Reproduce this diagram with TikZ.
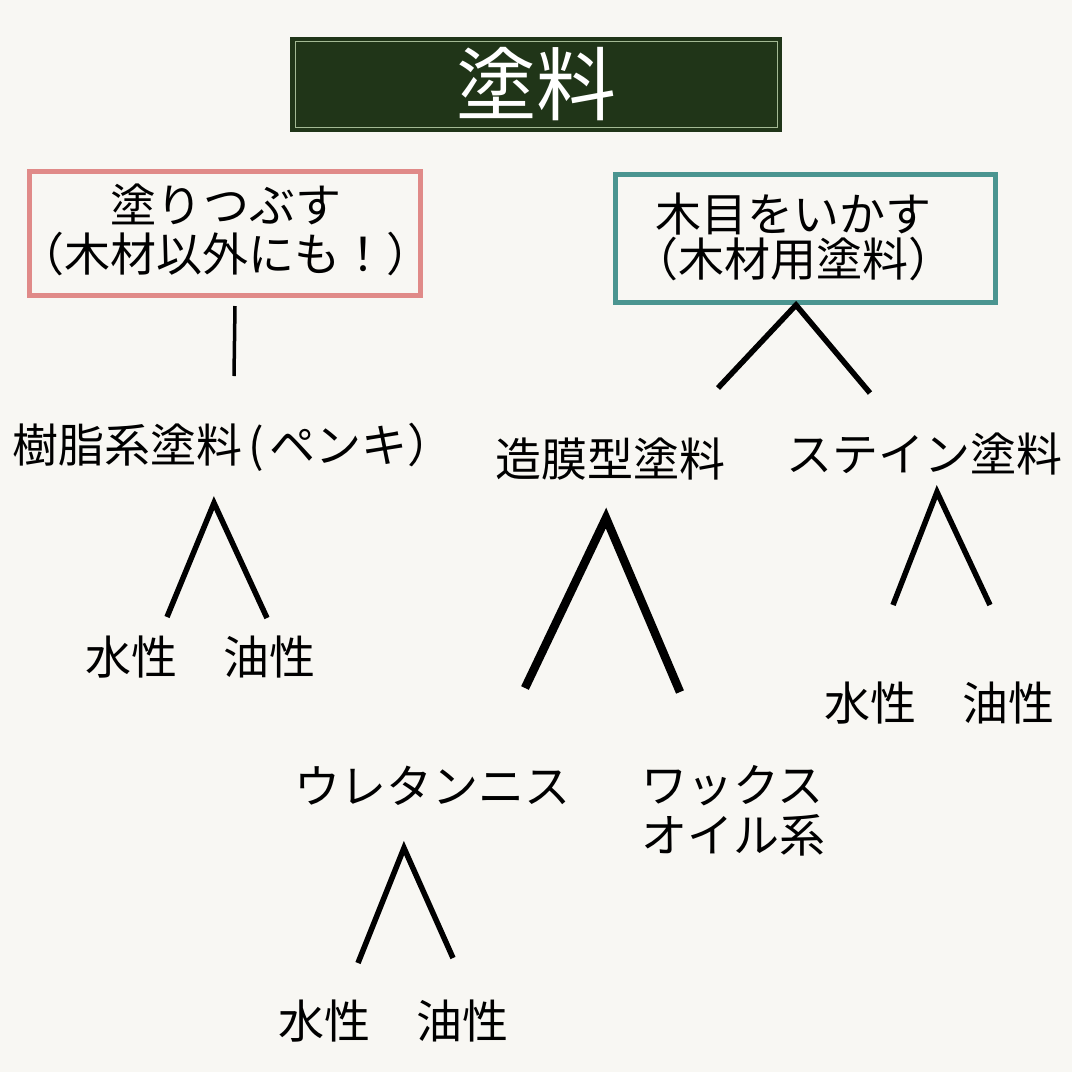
\documentclass[tikz,border=0pt]{standalone}
\usepackage{fontspec}
\newfontfamily\jp{Noto Sans CJK JP}
\definecolor{bgc}{HTML}{F8F7F3}
\definecolor{titlefill}{HTML}{203518}
\definecolor{titleline}{HTML}{A3B994}
\definecolor{pinkc}{HTML}{E08A88}
\definecolor{tealc}{HTML}{4B9590}
\begin{document}
\begin{tikzpicture}[x=1pt,y=-1pt,
  lbl/.style={inner sep=0pt, font=\jp\fontsize{46}{47}\selectfont, text=black},
  branch/.style={line width=5.5pt, black, line join=miter},
  heavybranch/.style={line width=8.5pt, black},
  catbox/.style={line width=5pt, fill=bgc}]
\fill[bgc] (0,0) rectangle (1072,1072);
\useasboundingbox (0,0) rectangle (1072,1072);
% title
\fill[titlefill] (290,37) rectangle (782,132);
\draw[titleline, line width=1pt] (295,41.5) rectangle (777,127.5);
\node[inner sep=0pt, font=\jp\fontsize{80}{80}\selectfont, text=white] (title) at (536,84) {塗料};
% category boxes
\draw[catbox, draw=pinkc] (29.5,171.5) rectangle (420.5,295.5);
\node[lbl, align=center, font=\jp\fontsize{46}{49}\selectfont] (paint) at (226,230) {塗りつぶす\\（木材以外にも！）};
\draw[catbox, draw=tealc] (615.5,174.5) rectangle (995.5,302.5);
\node[lbl, align=center, font=\jp\fontsize{46}{45}\selectfont] (wood) at (793,237) {木目をいかす\\（木材用塗料）};
% second level
\node[lbl] (resin) at (233,447) {樹脂系塗料\kern6pt(\kern5pt ペンキ）};
\node[lbl] (film) at (610,459) {造膜型塗料};
\node[lbl] (stain) at (924,454) {ステイン塗料};
\node[lbl] (ws1) at (200,657) {水性　油性};
\node[lbl] (ws2) at (939,703) {水性　油性};
\node[lbl] (ure) at (432,786) {ウレタンニス};
\node[lbl, anchor=west, align=left, font=\jp\fontsize{46}{50}\selectfont] (wax) at (641,811) {ワックス\\オイル系};
\node[lbl] (ws3) at (393,1021) {水性　油性};
% connectors
\coordinate (v1) at (235,306);
\coordinate (v2) at (234,376);
\draw[line width=3.5pt] (v1) -- (v2);
\coordinate (wa) at (796,305);
\coordinate (wl) at (718,388);
\coordinate (wr) at (870,393);
\draw[branch] (wl) -- (wa) -- (wr);
\coordinate (ra) at (214,503);
\coordinate (rl) at (167,617);
\coordinate (rr) at (267,618);
\draw[branch] (rl) -- (ra) -- (rr);
\coordinate (fa) at (606,518);
\coordinate (fl) at (525,688);
\coordinate (fr) at (680,692);
\draw[heavybranch] (fl) -- (fa) -- (fr);
\coordinate (sa) at (937,492);
\coordinate (sl) at (893,605);
\coordinate (sr) at (990,605);
\draw[branch] (sl) -- (sa) -- (sr);
\coordinate (ua) at (404,848);
\coordinate (ul) at (358,963);
\coordinate (ur) at (453,958);
\draw[branch] (ul) -- (ua) -- (ur);
\end{tikzpicture}
\end{document}
